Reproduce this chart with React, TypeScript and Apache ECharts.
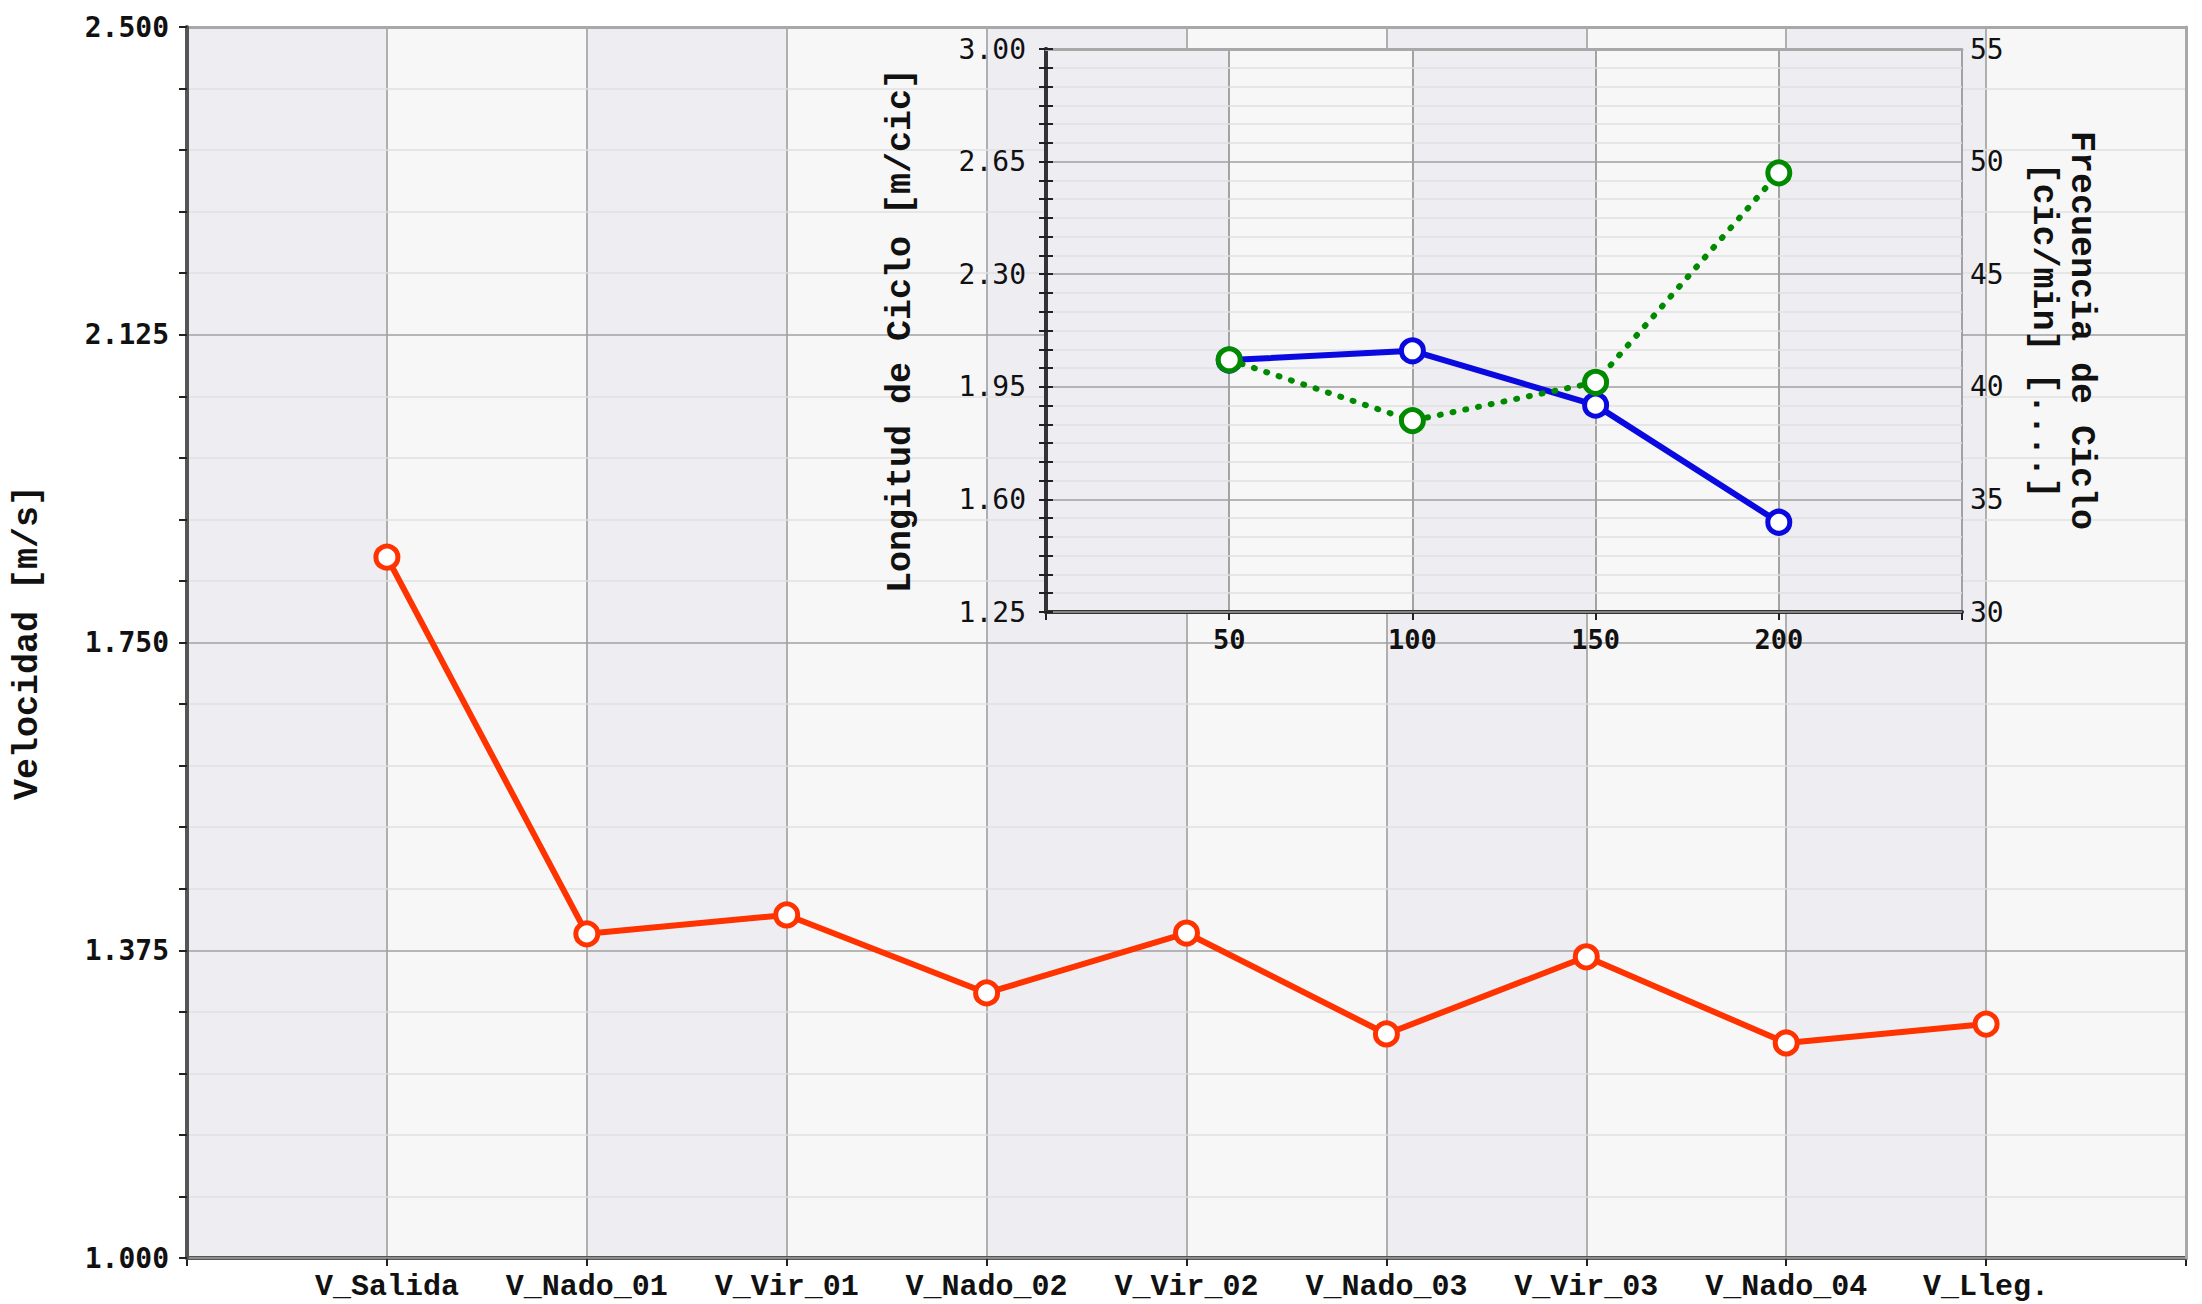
import React, { useEffect, useRef } from "react";
import * as echarts from "echarts";

// ---- Data ----
const categories = ["V_Salida", "V_Nado_01", "V_Vir_01", "V_Nado_02", "V_Vir_02", "V_Nado_03", "V_Vir_03", "V_Nado_04", "V_Lleg."];
const velocity = [1.854, 1.395, 1.418, 1.323, 1.396, 1.273, 1.367, 1.262, 1.285];

const distances = [50, 100, 150, 200];
const cycleLength = [2.033, 2.062, 1.893, 1.529];
const cycleFrequency = [41.2, 38.5, 40.2, 49.5];

// ---- Tick labels ----
const mainYLabelValues = [1.0, 1.375, 1.75, 2.125, 2.5];
const insetLeftLabelValues = [1.25, 1.6, 1.95, 2.3, 2.65, 3.0];
const insetRightLabelValues = [30, 35, 40, 45, 50, 55];
const insetXLabelValues = [50, 100, 150, 200];

const MONO = "'Liberation Mono', 'Courier New', monospace";
const NUM = "'DejaVu Sans Mono', monospace";
const BAND = ["#eeeef2", "#f7f7f7"];

function subdivide(values: number[], parts: number): number[] {
  const out: number[] = [];
  for (let i = 0; i < values.length - 1; i++) {
    const a = values[i];
    const b = values[i + 1];
    for (let k = 0; k < parts; k++) out.push(Number((a + ((b - a) * k) / parts).toFixed(6)));
  }
  out.push(values[values.length - 1]);
  return out;
}

export default function App() {
  const ref = useRef<HTMLDivElement>(null);
  useEffect(() => {
    if (!ref.current) return;
    const chart = echarts.init(ref.current, null, { renderer: "svg" });
    const mainXData = ["", ...categories, " "];
    const option: any = {
      animation: false,
      backgroundColor: "#ffffff",
      grid: [
        { left: 187, right: 16, top: 27, bottom: 46 },
        { left: 1046, top: 49, width: 916, height: 563, z: 5 },
      ],
      xAxis: [
        {
          type: "category",
          gridIndex: 0,
          data: mainXData,
          boundaryGap: false,
          position: "bottom",
          z: 0,
          axisLine: { show: true, lineStyle: { color: "#555", width: 4 } },
          axisTick: { show: true, interval: 0, length: 8, lineStyle: { color: "#222", width: 2 } },
          axisLabel: { interval: 0, margin: 14, fontFamily: MONO, fontWeight: "bold", fontSize: 30, color: "#111" },
          splitLine: { show: true, interval: 0, lineStyle: { color: "#999", width: 1.5 } },
          splitArea: { show: true, interval: 0, areaStyle: { color: BAND } },
        },
        {
          type: "value",
          gridIndex: 0,
          position: "top",
          min: 0,
          max: 1,
          z: 1,
          axisLine: { show: true, lineStyle: { color: "#a8a8a8", width: 3 } },
          axisTick: { show: false },
          axisLabel: { show: false },
          splitLine: { show: false },
        },
        {
          type: "value",
          gridIndex: 1,
          min: 0,
          max: 250,
          interval: 50,
          position: "bottom",
          z: 5,
          axisLine: { show: true, lineStyle: { color: "#333", width: 4 } },
          axisTick: { show: true, length: 8, lineStyle: { color: "#222", width: 2 } },
          axisLabel: { customValues: insetXLabelValues, margin: 14, fontFamily: NUM, fontWeight: "bold", fontSize: 27, color: "#111" },
          splitLine: { show: true, lineStyle: { color: "#888", width: 1.5 } },
          splitArea: { show: true, areaStyle: { color: BAND } },
        },
        {
          type: "value",
          gridIndex: 1,
          position: "top",
          min: 0,
          max: 1,
          z: 6,
          axisLine: { show: true, lineStyle: { color: "#a8a8a8", width: 3 } },
          axisTick: { show: false },
          axisLabel: { show: false },
          splitLine: { show: false },
        },
      ],
      yAxis: [
        {
          type: "value",
          gridIndex: 0,
          min: 1.0,
          max: 2.5,
          position: "left",
          z: 2,
          name: "Velocidad [m/s]",
          nameLocation: "middle",
          nameRotate: 90,
          nameGap: 142,
          nameTextStyle: { fontFamily: MONO, fontWeight: "bold", fontSize: 35, color: "#111" },
          axisLine: { show: true, lineStyle: { color: "#555", width: 4 } },
          axisTick: { show: true, customValues: subdivide(mainYLabelValues, 5), length: 8, lineStyle: { color: "#222", width: 2 } },
          axisLabel: {
            customValues: mainYLabelValues,
            formatter: (v: number) => Number(v).toFixed(3),
            margin: 18,
            fontFamily: NUM,
            fontWeight: "bold",
            fontSize: 28,
            color: "#111",
          },
          splitLine: { show: false },
        },
        {
          type: "value",
          gridIndex: 0,
          position: "right",
          min: 0,
          max: 4,
          interval: 1,
          z: 1,
          axisLine: { show: true, lineStyle: { color: "#a8a8a8", width: 3 } },
          axisTick: { show: false },
          axisLabel: { show: false },
          splitLine: { show: true, lineStyle: { color: "#a0a0a0", width: 1.5 } },
          minorTick: { show: false, splitNumber: 5 },
          minorSplitLine: { show: true, lineStyle: { color: "#e0e0e0", width: 1.5 } },
        },
        {
          type: "value",
          gridIndex: 1,
          min: 1.25,
          max: 3.0,
          position: "left",
          z: 6,
          name: "Longitud de Ciclo [m/cic]",
          nameLocation: "middle",
          nameRotate: 90,
          nameGap: 128,
          nameTextStyle: { fontFamily: MONO, fontWeight: "bold", fontSize: 35, color: "#111" },
          axisLine: { show: true, lineStyle: { color: "#333", width: 4 } },
          axisTick: { show: true, customValues: subdivide(insetLeftLabelValues, 6), length: 7, lineStyle: { color: "#222", width: 2 } },
          axisLabel: {
            customValues: insetLeftLabelValues,
            formatter: (v: number) => Number(v).toFixed(2),
            margin: 20,
            fontFamily: NUM,
            fontSize: 28,
            color: "#111",
          },
          splitLine: { show: false },
        },
        {
          type: "value",
          gridIndex: 1,
          min: 30,
          max: 55,
          interval: 5,
          position: "right",
          z: 6,
          name: "Frecuencia de Ciclo\n[cic/min] [....]",
          nameLocation: "middle",
          nameRotate: -90,
          nameGap: 62,
          nameTextStyle: { fontFamily: MONO, fontWeight: "bold", fontSize: 35, color: "#111", align: "center", lineHeight: 38 },
          axisLine: { show: true, lineStyle: { color: "#333", width: 4 } },
          axisTick: { show: true, length: 7, lineStyle: { color: "#222", width: 2 } },
          minorTick: { show: true, splitNumber: 6, length: 7, lineStyle: { color: "#222", width: 2 } },
          axisLabel: { customValues: insetRightLabelValues, margin: 8, fontFamily: NUM, fontSize: 28, color: "#111" },
          splitLine: { show: true, lineStyle: { color: "#a0a0a0", width: 1.5 } },
          minorSplitLine: { show: true, lineStyle: { color: "#e0e0e0", width: 1.5 } },
        },
      ],
      series: [
        {
          type: "line",
          name: "Velocidad",
          xAxisIndex: 0,
          yAxisIndex: 0,
          z: 3,
          data: categories.map((c, i) => [c, velocity[i]]),
          symbol: "circle",
          symbolSize: 22,
          lineStyle: { color: "#ff3300", width: 6 },
          itemStyle: { color: "#ffffff", borderColor: "#ff3300", borderWidth: 5 },
        },
        {
          type: "line",
          name: "Longitud de Ciclo",
          xAxisIndex: 2,
          yAxisIndex: 2,
          z: 10,
          data: distances.map((d, i) => [d, cycleLength[i]]),
          symbol: "circle",
          symbolSize: 22,
          lineStyle: { color: "#0a0ae0", width: 6 },
          itemStyle: { color: "#ffffff", borderColor: "#0a0ae0", borderWidth: 5 },
        },
        {
          type: "line",
          name: "Frecuencia de Ciclo",
          xAxisIndex: 2,
          yAxisIndex: 3,
          z: 11,
          data: distances.map((d, i) => [d, cycleFrequency[i]]),
          symbol: "circle",
          symbolSize: 22,
          lineStyle: { color: "#008a00", width: 6, type: [1, 12], cap: "round" },
          itemStyle: { color: "#ffffff", borderColor: "#008a00", borderWidth: 5 },
        },
      ],
    };
    chart.setOption(option);
    return () => chart.dispose();
  }, []);
  return <div ref={ref} style={{ position: "fixed", left: 0, top: 0, width: 2202, height: 1304 }} />;
}
